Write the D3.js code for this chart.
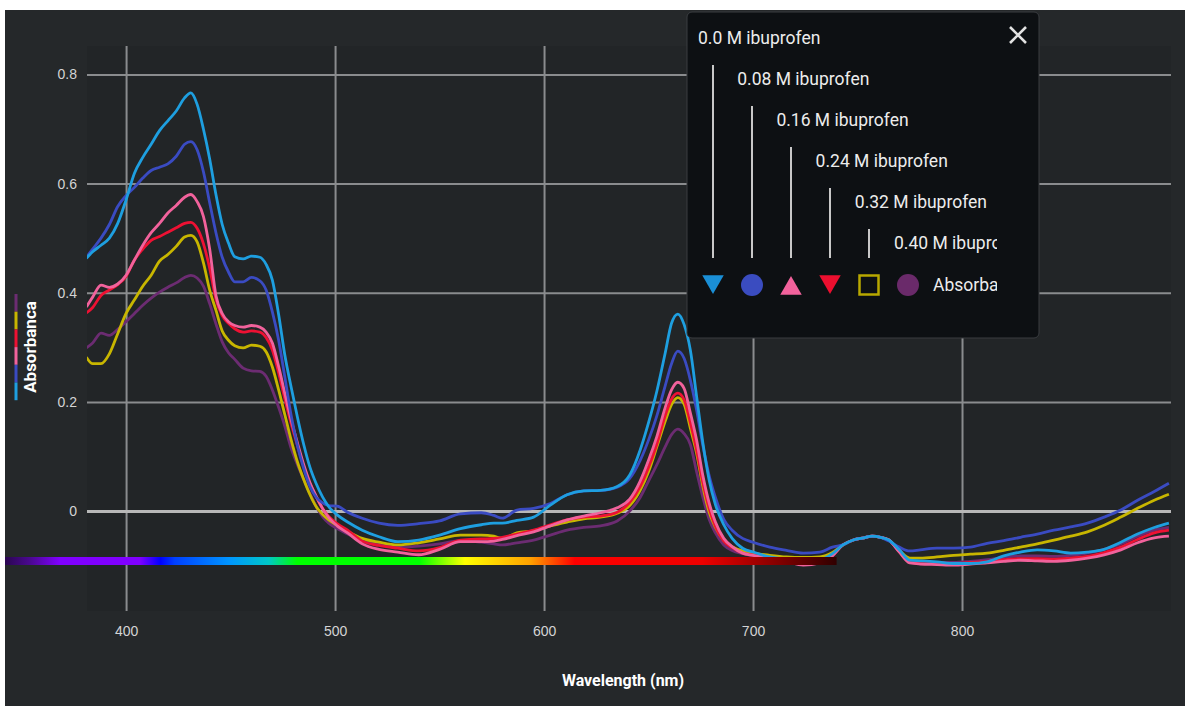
<!DOCTYPE html>
<html>
<head>
<meta charset="utf-8">
<script src="https://cdn.jsdelivr.net/npm/d3@7"></script>
<style>
    body { margin: 0; background: #ffffff; }
    svg { display: block; font-family: Roboto, "Liberation Sans", sans-serif; }
</style>
</head>
<body>
<div id="spectrum"></div>
<script>
// wavelength grid (nm) shared by all series
const wavelengths = [
    381, 384, 388, 392, 396, 400, 404, 408, 412, 416,
    420, 424, 428, 431, 434, 437, 440, 443, 446, 449,
    452, 456, 460, 464, 467, 470, 473, 476, 479, 482,
    485, 488, 491, 494, 497, 501, 506, 513, 521, 530,
    540, 550, 560, 570, 576, 580, 587, 595, 603, 611,
    619, 627, 635, 641, 646, 650, 654, 658, 661, 664,
    667, 670, 673, 676, 679, 682, 686, 690, 695, 700,
    708, 716, 724, 732, 738, 743, 748, 753, 757, 761,
    765, 770, 775, 780, 788, 796, 804, 812, 820, 828,
    836, 844, 852, 860, 868, 876, 884, 892, 899
];

const abs000 = [
    .463, .475, .487, .500, .527, .570, .619, .648, .672, .697,
    .715, .733, .757, .766, .745, .700, .645, .580, .525, .491,
    .466, .462, .467, .465, .452, .423, .360, .285, .227, .172,
    .122, .080, .050, .026, .008, -.007, -.020, -.035, -.047, -.056,
    -.053, -.044, -.032, -.025, -.022, -.022, -.017, -.011, .011, .030,
    .037, .038, .045, .066, .112, .162, .220, .290, .344, .361,
    .342, .295, .210, .125, .057, .012, -.025, -.050, -.068, -.075,
    -.084, -.088, -.093, -.090, -.078, -.062, -.053, -.049, -.046, -.048,
    -.053, -.071, -.090, -.091, -.093, -.096, -.096, -.093, -.082, -.075,
    -.071, -.073, -.077, -.075, -.070, -.057, -.042, -.030, -.022
];
const abs008 = [
    .465, .480, .500, .525, .558, .578, .593, .610, .624, .630,
    .636, .650, .672, .677, .662, .622, .565, .510, .465, .438,
    .420, .420, .428, .422, .405, .365, .313, .245, .175, .120,
    .078, .045, .025, .015, .010, .009, -.002, -.013, -.022, -.026,
    -.023, -.018, -.005, -.003, -.008, -.013, .002, .005, .014, .030,
    .037, .038, .044, .060, .093, .130, .175, .230, .270, .293,
    .280, .240, .185, .120, .065, .025, -.015, -.035, -.050, -.057,
    -.066, -.072, -.077, -.075, -.066, -.062, -.053, -.049, -.046, -.048,
    -.055, -.066, -.073, -.071, -.068, -.068, -.066, -.059, -.054, -.048,
    -.042, -.035, -.029, -.022, -.011, .002, .020, .036, .051
];
const abs016 = [
    .374, .392, .414, .410, .416, .432, .460, .487, .510, .527,
    .546, .560, .575, .580, .567, .540, .480, .395, .362, .347,
    .340, .337, .340, .337, .328, .308, .265, .215, .167, .125,
    .085, .052, .027, .005, -.012, -.027, -.040, -.060, -.070, -.075,
    -.080, -.070, -.056, -.056, -.055, -.052, -.045, -.038, -.027, -.016,
    -.009, -.003, .006, .022, .055, .093, .137, .190, .222, .236,
    .225, .180, .130, .065, .015, -.020, -.050, -.065, -.077, -.081,
    -.086, -.092, -.099, -.095, -.082, -.062, -.053, -.049, -.046, -.048,
    -.053, -.075, -.095, -.097, -.098, -.099, -.097, -.095, -.092, -.090,
    -.091, -.092, -.090, -.086, -.080, -.071, -.058, -.049, -.046
];
const abs024 = [
    .363, .373, .395, .405, .415, .430, .460, .480, .496, .503,
    .511, .519, .527, .529, .518, .490, .445, .388, .358, .344,
    .334, .328, .330, .328, .318, .295, .253, .205, .160, .120,
    .082, .050, .026, .005, -.010, -.023, -.035, -.055, -.063, -.068,
    -.073, -.067, -.053, -.051, -.050, -.048, -.042, -.035, -.025, -.016,
    -.011, -.009, -.002, .016, .045, .080, .123, .175, .205, .216,
    .204, .162, .112, .052, .005, -.028, -.055, -.067, -.077, -.080,
    -.085, -.090, -.097, -.093, -.080, -.062, -.053, -.049, -.046, -.048,
    -.053, -.074, -.093, -.094, -.095, -.096, -.094, -.092, -.089, -.087,
    -.087, -.088, -.086, -.083, -.076, -.066, -.052, -.040, -.035
];
const abs032 = [
    .282, .270, .270, .288, .325, .362, .387, .412, .432, .458,
    .470, .485, .502, .505, .493, .455, .405, .368, .330, .313,
    .303, .299, .304, .302, .292, .264, .222, .176, .130, .090,
    .058, .030, .008, -.006, -.016, -.026, -.037, -.050, -.057, -.062,
    -.058, -.051, -.044, -.044, -.046, -.050, -.040, -.036, -.027, -.020,
    -.014, -.011, -.004, .010, .038, .072, .118, .165, .195, .208,
    .196, .152, .106, .045, -.002, -.030, -.054, -.065, -.073, -.077,
    -.081, -.084, -.085, -.084, -.076, -.062, -.053, -.049, -.046, -.048,
    -.053, -.072, -.086, -.086, -.084, -.081, -.079, -.077, -.072, -.066,
    -.060, -.053, -.046, -.038, -.026, -.011, .005, .020, .031
];
const abs040 = [
    .299, .308, .326, .322, .333, .347, .362, .377, .390, .401,
    .410, .418, .428, .432, .427, .412, .380, .343, .310, .290,
    .278, .262, .257, .256, .247, .222, .190, .155, .115, .085,
    .058, .032, .008, -.010, -.022, -.032, -.042, -.055, -.061, -.066,
    -.064, -.060, -.054, -.057, -.060, -.062, -.058, -.053, -.044, -.035,
    -.030, -.027, -.018, .000, .025, .055, .085, .118, .140, .150,
    .142, .122, .072, .025, -.015, -.040, -.062, -.072, -.078, -.082,
    -.087, -.091, -.096, -.092, -.080, -.062, -.053, -.049, -.046, -.048,
    -.053, -.074, -.092, -.093, -.094, -.094, -.092, -.089, -.085, -.082,
    -.082, -.083, -.081, -.077, -.070, -.060, -.046, -.035, -.030
];

const seriesNames = ["0.0 M ibuprofen", "0.08 M ibuprofen", "0.16 M ibuprofen",
    "0.24 M ibuprofen", "0.32 M ibuprofen", "0.40 M ibuprofen"];
const seriesValues = [abs000, abs008, abs016, abs024, abs032, abs040];
const seriesColors = ["#1e9fe0", "#3a4bc2", "#f2629c", "#ee1133", "#c8b600", "#6c2c72"];
const symbolColors = ["#1a8fd6", "#3a4cc0", "#f2629c", "#ec0f2f", "#b8a800", "#6a2a6a"];
const symbolKinds = ["triangleDown", "circle", "triangleUp", "triangleDown", "square", "circle"];
const xTicks = [400, 500, 600, 700, 800];
const yTicks = [0, 0.2, 0.4, 0.6, 0.8];

(function () {
    let width = 1190, height = 711;
    let left = 87, right = 1171, top = 46, bottom = 611;

    let svg = d3.select("#spectrum")
        .append("svg")
        .attr("width", width)
        .attr("height", height);

    svg.append("rect")
        .attr("x", 5).attr("y", 10)
        .attr("width", 1180).attr("height", 696)
        .attr("fill", "#25282a");
    svg.append("rect")
        .attr("x", left).attr("y", top)
        .attr("width", right - left).attr("height", bottom - top)
        .attr("fill", "#222527");

    let x = d3.scaleLinear()
        .domain([381.3, 900])
        .range([left, right]);
    let y = d3.scaleLinear()
        .domain([-0.183, 0.852])
        .range([bottom, top]);

    // grid + tick labels
    let gx = svg.append("g")
        .attr("transform", `translate(0,${bottom})`)
        .call(d3.axisBottom(x).tickValues(xTicks).tickSize(-(bottom - top)).tickPadding(15));
    let gy = svg.append("g")
        .attr("transform", `translate(${left},0)`)
        .call(d3.axisLeft(y).tickValues(yTicks).tickFormat(d3.format("~g"))
            .tickSize(-(right - left)).tickPadding(10));
    [gx, gy].forEach(g => {
        g.select(".domain").remove();
        g.selectAll(".tick line").attr("stroke", "#8a8c8e").attr("stroke-width", 2);
        g.selectAll(".tick text")
            .attr("fill", "#d4d4d4")
            .attr("font-size", "14px");
    });
    gy.selectAll(".tick").filter(d => d === 0).select("line")
        .attr("stroke", "#b8b8b8").attr("stroke-width", 3);

    // curves
    svg.append("clipPath").attr("id", "plotClip")
        .append("rect")
        .attr("x", left).attr("y", top)
        .attr("width", right - left).attr("height", bottom - top);

    let line = d3.line()
        .x(d => x(d[0]))
        .y(d => y(d[1]))
        .curve(d3.curveMonotoneX);

    let order = [5, 4, 3, 2, 1, 0];
    svg.append("g")
        .attr("clip-path", "url(#plotClip)")
        .selectAll("path")
        .data(order)
        .enter()
        .append("path")
        .attr("d", i => line(wavelengths.map((w, k) => [w, seriesValues[i][k]])))
        .attr("fill", "none")
        .attr("stroke", i => seriesColors[i])
        .attr("stroke-width", 2.8)
        .attr("stroke-linejoin", "round");

    // spectrum strip
    let grad = svg.append("defs").append("linearGradient")
        .attr("id", "rainbow")
        .attr("x1", "0%").attr("x2", "100%");
    [[0, "#2a0650"], [0.03, "#4a0890"], [0.066, "#8000ff"], [0.162, "#8000ff"],
     [0.187, "#0000ff"], [0.204, "#0040ff"], [0.269, "#0095ff"], [0.317, "#00c8c8"],
     [0.351, "#00ff00"], [0.498, "#00ff00"], [0.553, "#ffff00"], [0.632, "#ffa000"],
     [0.685, "#ff0000"], [0.838, "#ee0000"], [0.946, "#700000"], [1, "#300000"]]
        .forEach(s => grad.append("stop").attr("offset", s[0]).attr("stop-color", s[1]));
    svg.append("rect")
        .attr("x", 5).attr("y", 557)
        .attr("width", x(740) - 5).attr("height", 8)
        .attr("fill", "url(#rainbow)");

    // axis titles
    svg.append("text")
        .attr("x", 623)
        .attr("y", 680)
        .attr("dy", "0.35em")
        .attr("text-anchor", "middle")
        .attr("font-size", "16px")
        .attr("font-weight", "bold")
        .attr("fill", "#ffffff")
        .text("Wavelength (nm)");
    svg.append("text")
        .attr("transform", "translate(30,347) rotate(-90)")
        .attr("dy", "0.35em")
        .attr("text-anchor", "middle")
        .attr("font-size", "17px")
        .attr("font-weight", "bold")
        .attr("fill", "#ffffff")
        .text("Absorbanca");
    order.forEach((i, k) => {
        svg.append("line")
            .attr("x1", 16).attr("x2", 16)
            .attr("y1", 294 + k * 17.7).attr("y2", 294 + (k + 1) * 17.7)
            .attr("stroke", seriesColors[i])
            .attr("stroke-width", 3);
    });

    // tooltip style legend
    svg.append("rect")
        .attr("x", 687).attr("y", 12)
        .attr("width", 352).attr("height", 326)
        .attr("rx", 5)
        .attr("fill", "#0d1013")
        .attr("stroke", "#3a3d41");
    svg.append("path")
        .attr("d", "M1010,27L1026,43M1026,27L1010,43")
        .attr("stroke", "#e2e2e2")
        .attr("stroke-width", 2.6);

    svg.append("clipPath").attr("id", "legendClip")
        .append("rect")
        .attr("x", 687).attr("y", 12)
        .attr("width", 310).attr("height", 326);
    let lg = svg.append("g").attr("clip-path", "url(#legendClip)");

    seriesNames.forEach((name, i) => {
        lg.append("text")
            .attr("x", 698 + i * 39.2)
            .attr("y", 38 + i * 41)
            .attr("dy", "0.35em")
            .attr("font-size", "17.5px")
            .attr("fill", "#ececec")
            .text(name);
        if (i < 5) {
            lg.append("line")
                .attr("x1", 713 + i * 39).attr("x2", 713 + i * 39)
                .attr("y1", 65 + i * 41).attr("y2", 258)
                .attr("stroke", "#c8c8c8")
                .attr("stroke-width", 2);
        }
        let kind = symbolKinds[i];
        let cx = 713 + i * 39;
        if (kind === "square") {
            lg.append("rect")
                .attr("x", cx - 9.5).attr("y", 275.5)
                .attr("width", 19).attr("height", 19)
                .attr("fill", "none")
                .attr("stroke", symbolColors[i])
                .attr("stroke-width", 2.5);
        } else {
            let type = kind === "circle" ? d3.symbolCircle : d3.symbolTriangle;
            let size = kind === "circle" ? 380 : 200;
            let rot = kind === "triangleDown" ? 180 : 0;
            let cy = kind === "triangleDown" ? 281.5 : (kind === "triangleUp" ? 288.5 : 285);
            lg.append("path")
                .attr("d", d3.symbol().type(type).size(size)())
                .attr("transform", `translate(${cx},${cy}) rotate(${rot})`)
                .attr("fill", symbolColors[i]);
        }
    });
    lg.append("text")
        .attr("x", 933).attr("y", 285)
        .attr("dy", "0.35em")
        .attr("font-size", "17.5px")
        .attr("fill", "#ececec")
        .text("Absorbance");
})();
</script>
</body>
</html>
